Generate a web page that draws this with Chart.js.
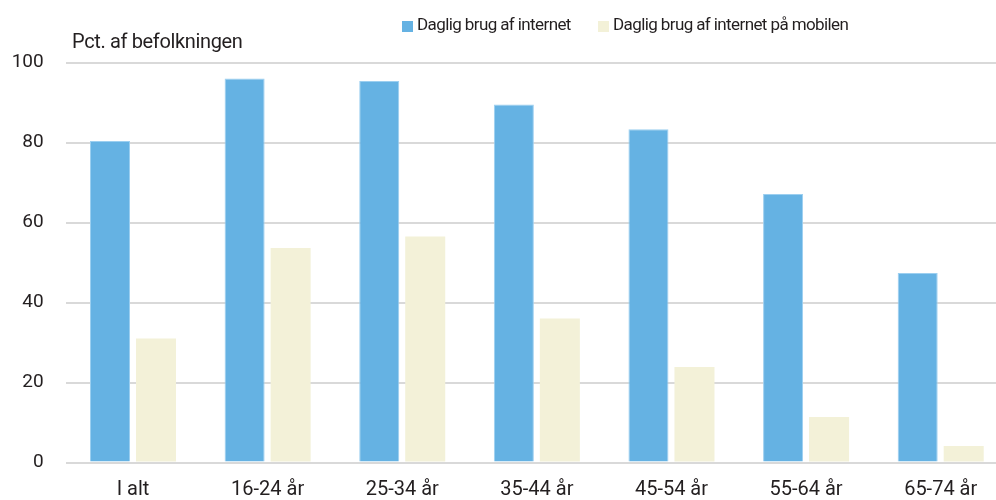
<!DOCTYPE html>
<html><head><meta charset="utf-8">
<script src="https://cdn.jsdelivr.net/npm/chart.js@4"></script>
<style>html,body{margin:0;padding:0;overflow:hidden;background:#fff}#wrap{width:1008px;height:500px}</style>
</head><body><div id="wrap"><canvas id="c" width="1008" height="500"></canvas></div>
<script>
const categories = ['I alt', '16-24 år', '25-34 år', '35-44 år', '45-54 år', '55-64 år', '65-74 år'];
const seriesNames = ['Daglig brug af internet', 'Daglig brug af internet på mobilen'];
const dailyInternet = [80.4, 96.0, 95.4, 89.5, 83.3, 67.1, 47.4];
const dailyMobile = [31.0, 53.6, 56.5, 36.0, 23.9, 11.4, 4.1];
const yTicks = [0, 20, 40, 60, 80, 100];
const yTitle = 'Pct. af befolkningen';

const FONT = 'Roboto';
const TEXT = '#231f20';

const overlay = {
  id: 'overlay',
  afterDraw(chart) {
    const ctx = chart.ctx;
    ctx.save();
    ctx.fillStyle = TEXT;
    ctx.textBaseline = 'middle';
    ctx.textAlign = 'left';
    ctx.font = '20px ' + FONT;
    if ('letterSpacing' in ctx) ctx.letterSpacing = '-0.35px';
    ctx.fillText(yTitle, 72, 43);
    const legendX = [402, 598];
    ctx.font = '17px ' + FONT;
    if ('letterSpacing' in ctx) ctx.letterSpacing = '-0.6px';
    chart.data.datasets.forEach((ds, i) => {
      ctx.fillStyle = ds.backgroundColor;
      ctx.fillRect(legendX[i], 21, 11, 11);
      ctx.fillStyle = TEXT;
      ctx.fillText(ds.label, legendX[i] + 15, 26);
    });
    ctx.restore();
  }
};

new Chart(document.getElementById('c'), {
  type: 'bar',
  data: {
    labels: categories,
    datasets: [
      { label: seriesNames[0], data: dailyInternet, backgroundColor: '#65b2e3', borderColor: '#9ccff0', borderWidth: 1,
        categoryPercentage: 0.6835, barPercentage: 0.87 },
      { label: seriesNames[1], data: dailyMobile, backgroundColor: '#f3f1d8', borderColor: '#f3f1d8', borderWidth: 0,
        categoryPercentage: 0.6835, barPercentage: 0.87 }
    ]
  },
  options: {
    responsive: false,
    animation: false,
    devicePixelRatio: 1,
    layout: { padding: { top: 62.5, right: 0, bottom: 0, left: 0 } },
    plugins: { legend: { display: false }, title: { display: false }, tooltip: { enabled: false } },
    scales: {
      x: {
        grid: { display: false, drawTicks: false },
        border: { display: false },
        ticks: { color: TEXT, font: { family: FONT, size: 20 }, padding: 15, maxRotation: 0, autoSkip: false },
        afterFit(s) { s.height = 37.5; }
      },
      y: {
        min: 0, max: 100,
        afterBuildTicks(s) { s.ticks = yTicks.map(v => ({ value: v })); },
        grid: { color: '#d9d9d9', lineWidth: 2, drawTicks: false },
        border: { display: false },
        ticks: { color: TEXT, font: { family: FONT, size: 19 }, padding: 22 },
        afterFit(s) { s.width = 65.7; }
      }
    }
  },
  plugins: [overlay]
});
</script>
</body></html>
